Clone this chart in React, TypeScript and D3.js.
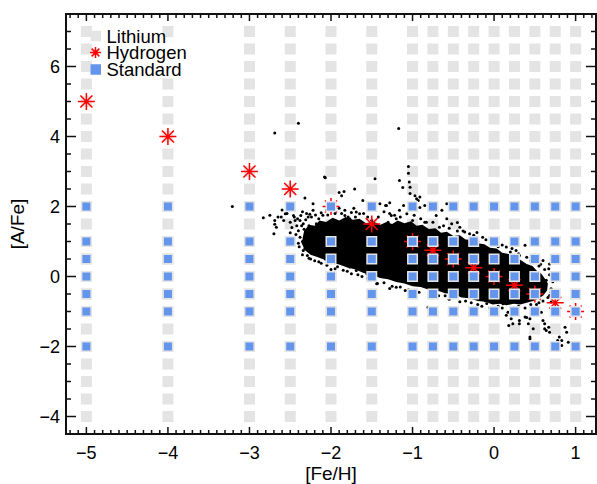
import React, { useEffect, useRef } from "react";
import * as d3 from "d3";

// model grid columns ([Fe/H])
const gridFeH = [-5, -4, -3, -2.5, -2, -1.5, -1, -0.75, -0.5, -0.25, 0, 0.25, 0.5, 0.75, 1];
// Lithium grid rows ([A/Fe])
const lithiumAFe = [-4, -3.5, -3, -2.5, -2, -1.5, -1, -0.5, 0, 0.5, 1, 1.5, 2, 2.5, 3, 3.5, 4, 4.5, 5, 5.5, 6, 6.5, 7];
// Standard grid rows
const standardAFe = [-2, -1, -0.5, 0, 0.5, 1, 2];
// Hydrogen models, one per column
const hydrogenAFe = [5, 4, 3, 2.5, 2, 1.5, 1, 0.75, 0.5, 0.25, 0, -0.25, -0.5, -0.75, -1];

// dense part of the star sample, outline in [Fe/H, A/Fe]
const cloudOutline: [number, number][] = [
  [-2.36, 0.95], [-2.33, 1.3], [-2.27, 1.48], [-2.2, 1.45], [-2.14, 1.6], [-2.06, 1.56],
  [-1.98, 1.68], [-1.9, 1.6], [-1.82, 1.7], [-1.73, 1.62], [-1.65, 1.65], [-1.57, 1.52],
  [-1.48, 1.57], [-1.4, 1.47], [-1.32, 1.56], [-1.25, 1.5], [-1.18, 1.6], [-1.1, 1.52],
  [-1.02, 1.58], [-0.95, 1.45], [-0.88, 1.48], [-0.8, 1.36], [-0.72, 1.38], [-0.65, 1.25],
  [-0.58, 1.28], [-0.5, 1.16], [-0.42, 1.18], [-0.35, 1.06], [-0.27, 1.05], [-0.2, 0.95],
  [-0.12, 0.92], [-0.05, 0.82], [0.03, 0.8], [0.1, 0.68], [0.18, 0.64], [0.25, 0.52],
  [0.32, 0.48], [0.4, 0.36], [0.47, 0.3], [0.53, 0.15], [0.58, 0.08], [0.62, -0.05],
  [0.66, -0.2], [0.65, -0.4], [0.6, -0.55], [0.55, -0.62], [0.48, -0.7], [0.4, -0.75],
  [0.32, -0.8], [0.24, -0.78], [0.15, -0.82], [0.07, -0.78], [-0.02, -0.8], [-0.1, -0.72],
  [-0.2, -0.7], [-0.3, -0.62], [-0.4, -0.6], [-0.5, -0.5], [-0.6, -0.48], [-0.7, -0.4],
  [-0.8, -0.38], [-0.9, -0.3], [-1.0, -0.28], [-1.1, -0.2], [-1.2, -0.16], [-1.3, -0.08],
  [-1.4, -0.04], [-1.5, 0.06], [-1.6, 0.1], [-1.7, 0.2], [-1.8, 0.26], [-1.9, 0.34],
  [-2.0, 0.4], [-2.08, 0.48], [-2.16, 0.55], [-2.25, 0.62], [-2.32, 0.75],
];

// individual stars around the dense part
const starDots: [number, number][] = [
  [-3.21, 2.0], [-2.69, 4.1], [-2.4, 4.38], [-1.17, 4.23], [-2.83, 1.68], [-2.6, 1.9],
  [-2.61, 1.7], [-2.69, 1.6], [-2.67, 1.41], [-2.69, 1.49], [-2.7, 1.22], [-2.54, 1.8],
  [-2.54, 1.93], [-2.56, 1.79], [-2.45, 1.7], [-2.46, 1.74], [-2.44, 1.6], [-2.37, 1.74],
  [-2.4, 1.31], [-2.38, 1.12], [-2.34, 0.74], [-2.3, 0.93], [-2.28, 1.22], [-2.28, 1.7],
  [-2.22, 1.89], [-2.24, 1.7], [-2.18, 1.51], [-2.2, 1.22], [-2.1, 1.36], [-2.16, 0.65],
  [-2.11, 0.74], [-2.2, 0.65], [-2.14, 0.6], [-2.07, 0.5], [-2.05, 1.03], [-2.01, 0.89],
  [-1.97, 0.65], [-1.89, 0.46], [-1.81, 0.41], [-1.73, 0.31], [-1.83, 1.74], [-1.77, 1.65],
  [-1.65, 1.79], [-1.83, 1.89], [-1.79, 1.7], [-1.69, 1.84], [-2.07, 2.82], [-1.71, 2.5],
  [-1.84, 2.43], [-2.32, 2.24], [-2.08, 2.84], [-1.87, 2.31], [-1.46, 2.79], [-1.33, 2.03],
  [-1.16, 2.74], [-1.05, 3.14], [-2.22, 2.08], [-1.9, 2.4], [-1.75, 1.83], [-1.61, 2.17],
  [-1.28, 2.11], [-1.12, 2.54], [-1.03, 2.37], [-0.93, 2.17], [-0.91, 1.97], [-0.45, 1.54],
  [-0.21, 1.26], [-0.58, 2.08], [-2.34, 1.51], [-2.3, 1.8], [-2.38, 1.6], [-2.26, 1.23],
  [-2.32, 0.8], [-2.18, 0.66], [-1.28, 1.8], [-1.49, 1.51], [-1.43, -0.2], [-1.28, -0.34],
  [-0.81, -0.88], [-0.09, -0.77], [0.15, -1.11], [0.4, -1.17],
  [-1.4, 2.08], [-1.32, 2.03], [-1.26, 1.74], [-1.16, 1.89], [-1.11, 2.03], [-1.07, 1.79],
  [-0.97, 2.31], [-0.95, 2.22], [-0.91, 2.27], [-0.85, 2.03], [-0.77, 1.89], [-0.71, 1.74],
  [-0.64, 1.89], [-0.58, 1.65], [-0.52, 1.51], [-0.42, 1.41], [-0.36, 1.27], [-0.3, 1.22],
  [-1.2, 1.65], [-1.3, 1.55], [-0.83, 1.55], [-0.67, 1.41], [-1.05, 2.95], [-1.04, 2.7],
  [-1.03, 2.55], [-1.44, -0.21], [-1.2, -0.31], [-1.09, -0.4], [-1.42, 0.08], [-1.56, 0.08],
  [-1.61, 0.27], [-1.69, 0.17], [-1.77, 0.27],
  [-0.14, 1.12], [0.15, 0.84], [0.27, 0.74], [0.31, 0.6], [0.38, 0.89], [0.6, 0.46],
  [0.68, 0.36], [0.67, 0.22], [0.64, -0.11], [0.62, -0.31], [-0.18, -0.64], [-0.11, -0.69],
  [0.11, -0.78], [0.17, -1.02], [0.21, -1.21], [0.23, -1.35], [0.31, -1.26], [0.38, -1.16],
  [0.44, -1.21], [0.42, -1.35], [0.48, -1.49], [0.44, -1.73], [0.52, -1.07], [0.58, -1.02],
  [0.62, -1.35], [0.64, -1.54], [0.68, -1.59], [0.67, -1.45], [0.74, -0.92], [0.7, -0.73],
  [0.68, -0.54], [0.87, -1.45], [0.89, -1.59], [0.78, -1.83], [0.83, -1.83], [0.91, -1.88],
  [0.8, -1.73], [0.18, -1.4], [0.31, -1.35], [0.44, -1.78], [0.62, -1.49], [0.83, -1.97],
  [0.6, -1.26],
  [-0.6, -0.55], [-0.35, -0.7], [-0.2, -0.8], [0.05, -0.85], [0.3, -0.85], [0.45, -0.8],
  [0.55, -0.75], [0.66, -0.6], [0.7, -0.35], [-0.2, 1.0], [0.05, 0.85], [0.2, 0.7],
  [0.45, 0.45], [0.55, 0.3], [-0.85, 1.55], [-1.0, 1.6], [-1.5, 1.6], [-1.7, 1.7],
  [-1.95, 1.6], [-2.0, 1.45],
  [-2.35, 1.0], [-2.33, 1.35], [-2.27, 1.45], [-2.25, 1.05], [-2.24, 0.85], [-2.29, 0.6],
  [-2.36, 1.45], [-2.42, 1.45], [-2.5, 1.55], [-2.48, 1.4], [-2.58, 1.6], [-2.65, 1.7],
  [-2.75, 1.75], [-2.5, 1.25], [-2.43, 1.2], [-2.35, 1.85], [-2.15, 1.65], [-2.1, 1.75],
  [-2.05, 1.9], [-1.95, 1.8], [-1.9, 1.95], [-1.72, 1.95], [-1.6, 1.8], [-1.55, 1.7],
  [-1.42, 1.7], [-1.35, 1.85], [-1.22, 1.75], [-1.15, 1.7], [-0.98, 1.75], [-0.9, 1.65],
  [-0.75, 1.55], [-0.62, 1.45], [-0.55, 1.38], [-0.45, 1.3], [-0.38, 1.3], [-0.25, 1.18],
  [-0.1, 1.05], [0.0, 0.95], [0.1, 0.9], [0.22, 0.8], [0.3, 0.65], [0.4, 0.55],
  [0.5, 0.42], [0.57, 0.35], [0.62, 0.2], [0.68, 0.05], [0.72, -0.15], [0.7, -0.45],
  [0.6, -0.7], [0.52, -0.8], [0.38, -0.9], [0.25, -0.92], [0.1, -0.9], [-0.05, -0.9],
  [-0.15, -0.85], [-0.28, -0.75], [-0.42, -0.72], [-0.55, -0.65], [-0.68, -0.55], [-0.78, -0.52],
  [-0.92, -0.45], [-1.05, -0.38], [-1.15, -0.3], [-1.25, -0.28], [-1.35, -0.18], [-1.5, -0.1],
  [-1.62, 0.0], [-1.75, 0.08], [-1.85, 0.18], [-1.95, 0.22], [-2.05, 0.32], [-2.15, 0.42],
  [-2.25, 0.5], [-2.0, 0.2],
  [-2.4, 0.95], [-2.41, 1.65], [-2.31, 1.62], [-2.26, 1.78], [-2.19, 1.76], [-2.12, 1.82],
  [-2.04, 1.76], [-1.87, 1.8], [-2.39, 0.85], [-2.35, 0.62], [-2.27, 0.52], [-2.2, 0.45],
  [-2.12, 0.38], [-1.92, 0.28], [-1.8, 0.15], [-1.67, 0.05], [-1.55, -0.05],
];

const xTickValues = [-5, -4, -3, -2, -1, 0, 1];
const yTickValues = [-4, -2, 0, 2, 4, 6];
const legendLabels = ["Lithium", "Hydrogen", "Standard"];

const FONT = "'Liberation Sans', Arial, Helvetica, sans-serif";
const GREY = "#e4e4e4";
const BLUE = "#6495ed";
const RED = "#ff0000";

const starPath = (r: number) => {
  const d = r * Math.SQRT1_2;
  return `M${-r},0L${r},0M0,${-r}L0,${r}M${-d},${-d}L${d},${d}M${-d},${d}L${d},${-d}`;
};

const App = () => {
  const svgRef = useRef<SVGSVGElement>(null);

  useEffect(() => {
    const width = 597;
    const height = 484;
    const margin = { top: 14, right: 1, bottom: 50, left: 66 };

    const x = d3.scaleLinear().domain([-5.25, 1.25]).range([margin.left, width - margin.right]);
    const y = d3.scaleLinear().domain([-4.5, 7.5]).range([height - margin.bottom, margin.top]);

    const svg = d3.select(svgRef.current).attr("width", width).attr("height", height);
    svg.selectAll("*").remove();
    svg.append("rect").attr("width", width).attr("height", height).attr("fill", "#fff");

    // Lithium grid
    const lithium = gridFeH.flatMap((f) => lithiumAFe.map((a) => [f, a]));
    svg.append("g").selectAll("rect").data(lithium).enter().append("rect")
      .attr("x", (d) => x(d[0]) - 5.5).attr("y", (d) => y(d[1]) - 5.5)
      .attr("width", 11).attr("height", 11).attr("fill", GREY);

    // star sample
    svg.append("path")
      .attr("d", d3.line().x((d) => x(d[0])).y((d) => y(d[1])).curve(d3.curveLinearClosed)(cloudOutline))
      .attr("fill", "#000");
    svg.append("g").selectAll("circle").data(starDots).enter().append("circle")
      .attr("cx", (d) => x(d[0])).attr("cy", (d) => y(d[1])).attr("r", 1.5).attr("fill", "#000");

    // Hydrogen
    svg.append("g").selectAll("path").data(gridFeH.map((f, i) => [f, hydrogenAFe[i]])).enter().append("path")
      .attr("transform", (d) => `translate(${x(d[0])},${y(d[1])})`)
      .attr("d", starPath(8.5)).attr("stroke", RED).attr("stroke-width", 1.5).attr("fill", "none");

    // Standard grid
    const standard = gridFeH.flatMap((f) => standardAFe.map((a) => [f, a]));
    const sg = svg.append("g");
    sg.selectAll("rect.bg").data(standard).enter().append("rect").attr("class", "bg")
      .attr("x", (d) => x(d[0]) - 5.5).attr("y", (d) => y(d[1]) - 5.5)
      .attr("width", 11).attr("height", 11).attr("fill", GREY);
    sg.selectAll("rect.fg").data(standard).enter().append("rect").attr("class", "fg")
      .attr("x", (d) => x(d[0]) - 4).attr("y", (d) => y(d[1]) - 4)
      .attr("width", 8).attr("height", 8).attr("fill", BLUE);

    // legend
    const lg = svg.append("g");
    lg.append("rect").attr("x", 101).attr("y", 41).attr("width", 94).attr("height", 36).attr("fill", "#fff");
    const ly = [36, 52.5, 69.5];
    lg.append("rect").attr("x", 90.5).attr("y", ly[0] - 5.25).attr("width", 10.5).attr("height", 10.5).attr("fill", GREY);
    lg.append("path").attr("transform", `translate(95.5,${ly[1]})`).attr("d", starPath(5.5))
      .attr("stroke", RED).attr("stroke-width", 1.5).attr("fill", "none");
    lg.append("rect").attr("x", 90.5).attr("y", ly[2] - 5.25).attr("width", 10.5).attr("height", 10.5).attr("fill", BLUE);
    lg.selectAll("text").data(legendLabels).enter().append("text")
      .attr("x", 106.5).attr("y", (d, i) => ly[i] + 6.5)
      .attr("font-family", FONT).attr("font-size", 18.5).attr("fill", "#000")
      .text((d) => d);

    // frame and ticks
    const x0 = x.range()[0], x1 = x.range()[1];
    const y0 = y.range()[0], y1 = y.range()[1];
    const ax = svg.append("g").attr("stroke", "#111").attr("stroke-width", 1.5);
    const xMinor = d3.range(-52, 13).map((v) => v / 10).filter((v) => !xTickValues.includes(v));
    const yMinor = d3.range(-8, 15).map((v) => v / 2).filter((v) => !yTickValues.includes(v));
    xTickValues.forEach((v) => {
      ax.append("line").attr("x1", x(v)).attr("x2", x(v)).attr("y1", y0).attr("y2", y0 - 7);
      ax.append("line").attr("x1", x(v)).attr("x2", x(v)).attr("y1", y1).attr("y2", y1 + 7);
    });
    xMinor.forEach((v) => {
      ax.append("line").attr("x1", x(v)).attr("x2", x(v)).attr("y1", y0).attr("y2", y0 - 4);
      ax.append("line").attr("x1", x(v)).attr("x2", x(v)).attr("y1", y1).attr("y2", y1 + 4);
    });
    yTickValues.forEach((v) => {
      ax.append("line").attr("x1", x0).attr("x2", x0 + 10).attr("y1", y(v)).attr("y2", y(v));
      ax.append("line").attr("x1", x1).attr("x2", x1 - 10).attr("y1", y(v)).attr("y2", y(v));
    });
    yMinor.forEach((v) => {
      ax.append("line").attr("x1", x0).attr("x2", x0 + 5).attr("y1", y(v)).attr("y2", y(v));
      ax.append("line").attr("x1", x1).attr("x2", x1 - 5).attr("y1", y(v)).attr("y2", y(v));
    });
    svg.append("rect").attr("x", x0).attr("y", y1).attr("width", x1 - x0).attr("height", y0 - y1)
      .attr("fill", "none").attr("stroke", "#111").attr("stroke-width", 2);

    // tick labels
    const fmt = d3.format("d");
    svg.append("g").selectAll("text").data(xTickValues).enter().append("text")
      .attr("x", (d) => x(d)).attr("y", 459).attr("text-anchor", "middle")
      .attr("font-family", FONT).attr("font-size", 18).text((d) => fmt(d));
    svg.append("g").selectAll("text").data(yTickValues).enter().append("text")
      .attr("x", 60).attr("y", (d) => y(d) + 6.5).attr("text-anchor", "end")
      .attr("font-family", FONT).attr("font-size", 18).text((d) => fmt(d));

    // axis titles
    svg.append("text").attr("x", (x0 + x1) / 2).attr("y", 479.5).attr("text-anchor", "middle")
      .attr("font-family", FONT).attr("font-size", 19).text("[Fe/H]");
    svg.append("text").attr("transform", `translate(24,${(y0 + y1) / 2}) rotate(-90)`)
      .attr("text-anchor", "middle").attr("font-family", FONT).attr("font-size", 19).text("[A/Fe]");
  }, []);

  return <svg ref={svgRef} style={{ position: "absolute", left: 0, top: 0 }}></svg>;
};

export default App;
